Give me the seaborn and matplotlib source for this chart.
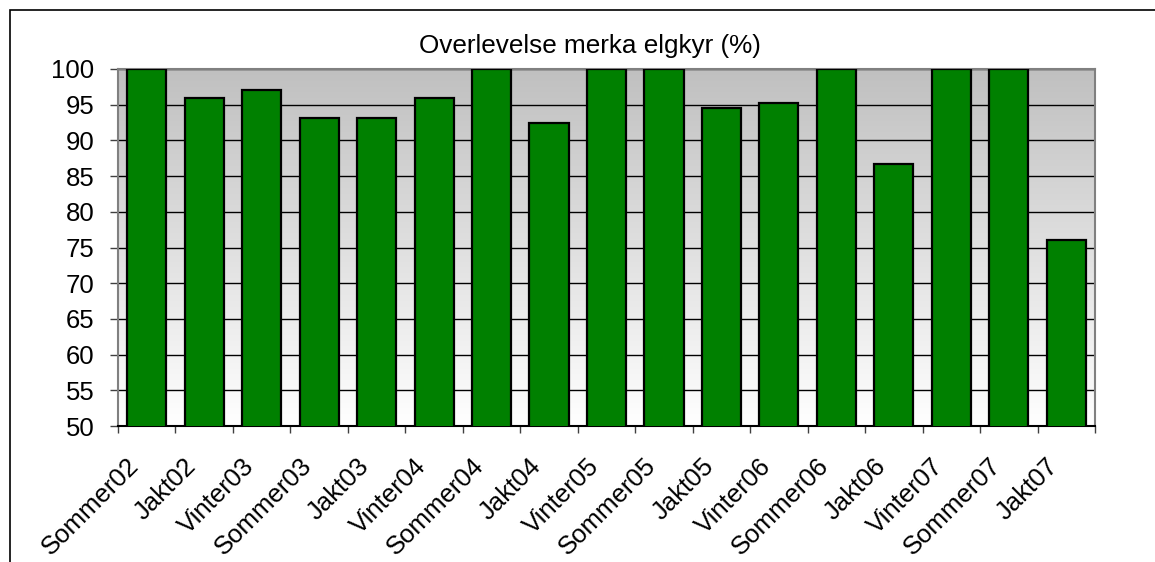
import numpy as np
import pandas as pd
import matplotlib
matplotlib.use("Agg")
import matplotlib.pyplot as plt
import matplotlib.transforms as mtransforms
import seaborn as sns
from matplotlib.patches import Rectangle
from matplotlib.ticker import FixedLocator, MultipleLocator

# data
perioder = ["Sommer02", "Jakt02", "Vinter03", "Sommer03", "Jakt03", "Vinter04",
            "Sommer04", "Jakt04", "Vinter05", "Sommer05", "Jakt05", "Vinter06",
            "Sommer06", "Jakt06", "Vinter07", "Sommer07", "Jakt07"]
overlevelse = [100, 96, 97, 93.1, 93.1, 96, 100, 92.4, 100, 100, 94.5, 95.3,
               100, 86.7, 100, 100, 76]
tittel = "Overlevelse merka elgkyr (%)"

df = pd.DataFrame({"periode": perioder, "overlevelse": overlevelse})

sns.set_style("white")
plt.rcParams["font.family"] = ["Liberation Sans", "DejaVu Sans"]
plt.rcParams["text.color"] = "black"
plt.rcParams["xtick.labelcolor"] = "black"
plt.rcParams["ytick.labelcolor"] = "black"

fig = plt.figure(figsize=(11.55, 5.62), dpi=100)
ax = fig.add_axes([118 / 1155, 1 - 426 / 562, (1095 - 118) / 1155, (426 - 69) / 562])

# grey-to-white gradient behind the plot area
grad = np.linspace(0, 1, 256).reshape(-1, 1)
cmap = matplotlib.colors.LinearSegmentedColormap.from_list("bg", ["#c0c0c0", "#ffffff"])
ax.imshow(grad, aspect="auto", cmap=cmap, extent=[0, 1, 0, 1],
          transform=ax.transAxes, zorder=0)

sns.barplot(data=df, x="periode", y="overlevelse", color="#008000",
            saturation=1, width=0.68, edgecolor="black", linewidth=1.6,
            ax=ax, zorder=3)

ax.set_ylim(50, 100)
ax.set_xlim(-0.5, len(perioder) - 0.5)
ax.yaxis.set_major_locator(MultipleLocator(5))
ax.grid(axis="y", color="black", linewidth=1, zorder=1)
ax.set_axisbelow(True)

ax.set_xlabel("")
ax.set_ylabel("")
ax.tick_params(axis="y", labelsize=18.5, length=6, width=1, color="#404040",
               direction="out", left=True, pad=11)
ax.tick_params(axis="x", which="major", length=0, labelsize=18.5, pad=20)
ax.xaxis.set_minor_locator(FixedLocator(np.arange(-0.5, len(perioder), 1)))
ax.tick_params(axis="x", which="minor", length=5, width=1, color="#404040",
               direction="out", bottom=True)
shift = mtransforms.ScaledTranslation(-20 / 100, 0, fig.dpi_scale_trans)
for lab in ax.get_xticklabels():
    lab.set_rotation(45)
    lab.set_ha("right")
    lab.set_va("top")
    lab.set_rotation_mode("anchor")
    lab.set_transform(lab.get_transform() + shift)

for side in ["top", "right", "left"]:
    ax.spines[side].set_color("#808080")
    ax.spines[side].set_linewidth(1.5)
ax.spines["bottom"].set_color("black")
ax.spines["bottom"].set_linewidth(1.5)

fig.text(590 / 1155, 1 - 46 / 562, tittel, ha="center", va="center", fontsize=18.8)

# outer chart frame (cut off on the right and bottom like the source)
fig.patches.append(Rectangle((10 / 1155, -0.1), 1.2, 1 - 10 / 562 + 0.1,
                             transform=fig.transFigure, fill=False,
                             edgecolor="black", linewidth=1.2))

fig.savefig("out.png", dpi=100)
